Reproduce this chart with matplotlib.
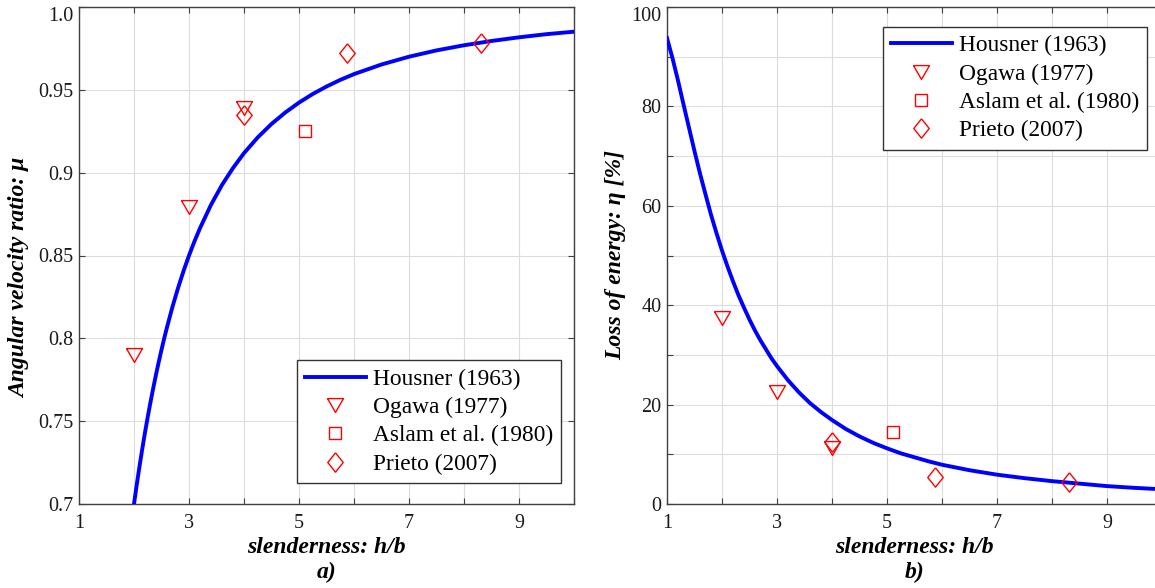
import matplotlib
matplotlib.use("Agg")
import matplotlib.pyplot as plt

plt.rcParams['font.family'] = ['Liberation Serif', 'DejaVu Serif']

# Housner (1963) curves
housner_x_a = [2, 2.05, 2.1, 2.15, 2.2, 2.25, 2.3, 2.35, 2.4, 2.45, 2.5, 2.55,
               2.6, 2.7, 2.8, 2.9, 3, 3.1, 3.2, 3.4, 3.6, 3.8, 4,
               4.25, 4.5, 4.75, 5, 5.25, 5.5, 5.75, 6,
               6.5, 7, 7.5, 8, 8.5, 9, 9.5, 10]
housner_mu = [0.700, 0.7117, 0.7227, 0.7332, 0.7432, 0.7526, 0.7615, 0.7700, 0.7781,
              0.7858, 0.7931, 0.8001,
              0.8067, 0.8191, 0.8303, 0.8406, 0.8500, 0.8586, 0.8665, 0.8806, 0.8926,
              0.9028, 0.9118,
              0.9213, 0.9294, 0.9363, 0.9423, 0.9475, 0.9520, 0.9560, 0.9595,
              0.9653, 0.9700, 0.9738, 0.9769, 0.9795, 0.9817, 0.9836, 0.9851]

housner_x_b = [1, 1.1, 1.2, 1.3, 1.4, 1.5, 1.6, 1.7, 1.8, 1.9, 2,
               2.1, 2.2, 2.3, 2.4, 2.5, 2.6, 2.7, 2.8, 2.9, 3,
               3.2, 3.4, 3.6, 3.8, 4, 4.25, 4.5, 4.75, 5, 5.25, 5.5, 5.75, 6,
               6.5, 7, 7.5, 8, 8.5, 9, 9.5, 10]
housner_eta = [93.75, 89.7, 85.2, 80.4, 75.7, 71.0, 66.5, 62.3, 58.2, 54.5, 51.0,
               47.8, 44.8, 42.0, 39.5, 37.1, 34.9, 32.9, 31.1, 29.3, 27.75,
               24.9, 22.45, 20.3, 18.5, 16.9, 15.1, 13.6, 12.3, 11.2, 10.2, 9.4, 8.6, 7.9,
               6.8, 5.9, 5.2, 4.6, 4.1, 3.6, 3.25, 2.96]

# experimental data
ogawa_x = [2, 3, 4]
ogawa_mu = [0.790, 0.879, 0.939]
ogawa_eta = [37.4, 22.5, 11.3]

aslam_x = [5.1]
aslam_mu = [0.925]
aslam_eta = [14.5]

prieto_x = [4, 5.87, 8.3]
prieto_mu = [0.935, 0.972, 0.978]
prieto_eta = [12.4, 5.5, 4.5]

x_ticks = list(range(1, 11))
x_labels = [str(v) if v % 2 == 1 else '' for v in x_ticks]
mu_ticks = [0.7, 0.75, 0.8, 0.85, 0.9, 0.95, 1.0]
mu_labels = ['0.7', '0.75', '0.8', '0.85', '0.9', '0.95', '1.0']
eta_ticks = list(range(0, 101, 10))
eta_labels = [str(v) if v % 20 == 0 else '' for v in eta_ticks]

# closed outlines for MATLAB-like markers
tri = [(-1, 0.866), (1, 0.866), (0, -0.866), (-1, 0.866)]
dia = [(0, 1), (0.8, 0), (0, -1), (-0.8, 0), (0, 1)]
red = '#ff0000'
mk = dict(linestyle='none', markerfacecolor='none', markeredgecolor=red, markeredgewidth=1.0)

W, H = 1155, 588
fig = plt.figure(figsize=(W / 100, H / 100), dpi=100)
ax_a = fig.add_axes([79 / W, 84 / H, 495 / W, 497 / H])
ax_b = fig.add_axes([667 / W, 84 / H, 495 / W, 497 / H])


def style(ax):
    for s in ax.spines.values():
        s.set_color('#404040')
        s.set_linewidth(1.0)
    ax.grid(True, color='#dcdcdc', linewidth=0.8)
    ax.set_axisbelow(True)
    ax.tick_params(direction='in', top=True, right=True, length=4.5, width=0.8,
                   color='#404040', labelsize=14.5, labelcolor='#1a1a1a')
    ax.tick_params(axis='x', pad=7)
    ax.tick_params(axis='y', pad=4)


for ax, hx, hy, oy, ay, py in [(ax_a, housner_x_a, housner_mu, ogawa_mu, aslam_mu, prieto_mu),
                               (ax_b, housner_x_b, housner_eta, ogawa_eta, aslam_eta, prieto_eta)]:
    style(ax)
    ax.plot(hx, hy, color='#0000ff', linewidth=2.8, label='Housner (1963)', zorder=3,
            solid_joinstyle='round')
    ax.plot(ogawa_x, oy, marker=tri, markersize=11.5, label='Ogawa (1977)', zorder=4, **mk)
    ax.plot(aslam_x, ay, marker='s', markersize=8.3, label='Aslam et al. (1980)', zorder=4, **mk)
    ax.plot(prieto_x, py, marker=dia, markersize=13.9, label='Prieto (2007)', zorder=4, **mk)
    ax.set_xlim(1, 10)
    ax.set_xticks(x_ticks)
    ax.set_xticklabels(x_labels)
    ax.set_xlabel('slenderness: h/b', fontsize=17, fontweight='bold', fontstyle='italic',
                  labelpad=3)

ax_a.set_ylim(0.7, 1.0)
ax_a.set_yticks(mu_ticks)
ax_a.set_yticklabels(mu_labels)
ax_a.set_ylabel('Angular velocity ratio: μ', fontsize=17, fontweight='bold',
                fontstyle='italic')
ax_a.yaxis.set_label_coords(-0.099, 0.455)
ax_a.get_yticklabels()[-1].set_va('top')

ax_b.set_ylim(0, 100)
ax_b.set_yticks(eta_ticks)
ax_b.set_yticklabels(eta_labels)
ax_b.set_ylabel('Loss of energy: η [%]', fontsize=17, fontweight='bold',
                fontstyle='italic')
ax_b.get_yticklabels()[-1].set_va('top')

leg_kw = dict(fontsize=16.8, numpoints=1, handlelength=2.6, handletextpad=0.3,
              labelspacing=0.3, borderpad=0.35, borderaxespad=0, fancybox=False,
              framealpha=1, edgecolor='#333333')
la = ax_a.legend(loc='lower right', bbox_to_anchor=(0.9737, 0.0423), **leg_kw)
lb = ax_b.legend(loc='upper right', bbox_to_anchor=(0.9697, 0.9598), **leg_kw)
for lg in (la, lb):
    lg.get_frame().set_linewidth(1.0)

fig.text((79 + 247.5) / W, 1 - 572 / H, 'a)', fontsize=17, fontweight='bold',
         fontstyle='italic', ha='center', va='center')
fig.text((667 + 247.5) / W, 1 - 572 / H, 'b)', fontsize=17, fontweight='bold',
         fontstyle='italic', ha='center', va='center')

fig.savefig('out.png', dpi=100)
